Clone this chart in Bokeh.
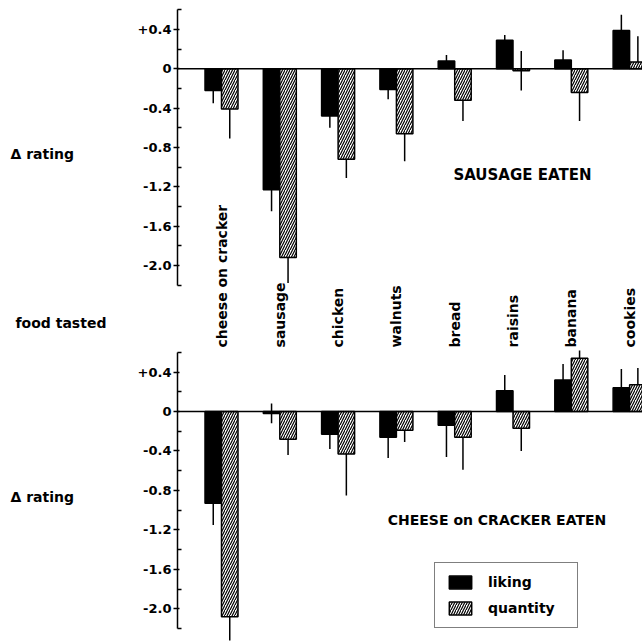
import numpy as np
from bokeh.plotting import figure
from bokeh.models import (Range1d, LinearAxis, FixedTicker, Span, Label,
                          ColumnDataSource, Legend, LegendItem, CustomJSTickFormatter)
from bokeh.layouts import column, row
from bokeh.embed import file_html
from bokeh.resources import INLINE
from bokeh.core.properties import value

# ---------------- data ----------------
foods = ["cheese on cracker", "sausage", "chicken", "walnuts",
         "bread", "raisins", "banana", "cookies"]

# SAUSAGE EATEN
saus_liking = [-0.22, -1.23, -0.48, -0.21, 0.08, 0.29, 0.09, 0.39]
saus_liking_se = [0.13, 0.22, 0.12, 0.10, 0.06, 0.055, 0.10, 0.16]
saus_quantity = [-0.41, -1.92, -0.92, -0.66, -0.32, -0.02, -0.24, 0.07]
saus_quantity_se = [0.30, 0.26, 0.19, 0.28, 0.21, 0.20, 0.29, 0.26]

# CHEESE on CRACKER EATEN
chee_liking = [-0.93, -0.02, -0.23, -0.26, -0.14, 0.21, 0.32, 0.24]
chee_liking_se = [0.22, 0.10, 0.15, 0.21, 0.32, 0.16, 0.16, 0.19]
chee_quantity = [-2.08, -0.28, -0.43, -0.19, -0.26, -0.17, 0.54, 0.27]
chee_quantity_se = [0.24, 0.16, 0.42, 0.12, 0.33, 0.23, 0.28, 0.17]

major_ticks = [0.4, 0.0, -0.4, -0.8, -1.2, -1.6, -2.0]
minor_ticks = [0.6, 0.2, -0.2, -0.6, -1.0, -1.4, -1.8, -2.2]
axis_bounds = (-2.2, 0.6)

side_texts = ["\u0394 rating", "food  tasted", "\u0394 rating"]

# ---------------- style ----------------
FONT = "DejaVu Sans"
SIDE_W = 130
W = 642 - SIDE_W
LEFT = 177 - SIDE_W
BAR_W = 0.283
x_range = Range1d(-0.7547, 7.221)
xs = np.arange(len(foods))


def whisker_ends(vals, ses):
    v = np.asarray(vals, dtype=float)
    s = np.asarray(ses, dtype=float)
    near = np.abs(v) < 0.05
    lo = np.where(near | (v < 0), v - s, v)
    hi = np.where(near | (v >= 0), v + s, v)
    return lo, hi


def panel(h, yr, liking, liking_se, qty, qty_se):
    p = figure(width=W, height=h, x_range=x_range, y_range=yr,
               output_backend="svg", toolbar_location=None,
               x_axis_type=None, y_axis_type=None,
               min_border_left=LEFT, min_border_right=0,
               min_border_top=0, min_border_bottom=0)
    p.outline_line_color = None
    p.background_fill_color = "white"
    p.border_fill_color = "white"

    ax = LinearAxis(ticker=FixedTicker(ticks=major_ticks, minor_ticks=minor_ticks),
                    formatter=CustomJSTickFormatter(code="""
                        if (Math.abs(tick) < 1e-6) return "0";
                        if (tick > 0) return "+" + tick.toFixed(1);
                        return "-" + Math.abs(tick).toFixed(1);
                    """))
    ax.bounds = axis_bounds
    ax.axis_line_width = 1.5
    ax.axis_line_color = "black"
    ax.major_tick_in = 2
    ax.major_tick_out = 4
    ax.minor_tick_in = 4
    ax.minor_tick_out = 0
    ax.major_tick_line_width = 1.5
    ax.minor_tick_line_width = 1.5
    ax.major_label_standoff = 2
    ax.major_label_text_font = FONT
    ax.major_label_text_font_style = "bold"
    ax.major_label_text_font_size = "13px"
    ax.major_label_text_color = "black"
    p.add_layout(ax, "left")

    p.add_layout(Span(location=0, dimension="width", line_color="black", line_width=1.5))

    src = ColumnDataSource(dict(
        xl=xs - BAR_W / 2, xq=xs + BAR_W / 2,
        liking=liking, qty=qty))
    rl = p.vbar(x="xl", top="liking", bottom=0, width=BAR_W, source=src,
                fill_color="black", line_color="black", line_width=1.5)
    rq = p.vbar(x="xq", top="qty", bottom=0, width=BAR_W, source=src,
                fill_color="white", line_color="black", line_width=1.5,
                hatch_pattern="/", hatch_color="black", hatch_scale=5, hatch_weight=1.2)

    llo, lhi = whisker_ends(liking, liking_se)
    qlo, qhi = whisker_ends(qty, qty_se)
    p.segment(x0=xs - BAR_W / 2, x1=xs - BAR_W / 2, y0=llo, y1=lhi,
              line_color="black", line_width=1.5)
    p.segment(x0=xs + BAR_W / 2, x1=xs + BAR_W / 2, y0=qlo, y1=qhi,
              line_color="black", line_width=1.5)
    return p, rl, rq


# top panel: frame spans page y 0..350
top, _, _ = panel(350, Range1d(-2.866, 0.695),
                  saus_liking, saus_liking_se, saus_quantity, saus_quantity_se)
top.text(x=xs, y=[-2.835] * len(foods), text=foods, angle=np.pi / 2,
         text_align="left", text_baseline="middle",
         text_font=value(FONT), text_font_style="bold",
         text_font_size="14px", text_color="black")
top.add_layout(Label(x=5.206, y=-1.085, text="SAUSAGE  EATEN", text_align="center",
                     text_baseline="middle", text_font=FONT, text_font_style="bold",
                     text_font_size="15px", text_color="black"))

# bottom panel: frame spans page y 350..642
bot, bl, bq = panel(292, Range1d(-2.340, 0.618),
                    chee_liking, chee_liking_se, chee_quantity, chee_quantity_se)
bot.add_layout(Label(x=4.725, y=-1.104, text="CHEESE on CRACKER EATEN", text_align="center",
                     text_baseline="middle", text_font=FONT, text_font_style="bold",
                     text_font_size="14px", text_color="black"))

legend = Legend(items=[LegendItem(label="liking", renderers=[bl]),
                       LegendItem(label="quantity", renderers=[bq])],
                location=(257, 14), margin=0, padding=11, spacing=10,
                glyph_width=28, glyph_height=16, label_height=16, label_width=78,
                label_standoff=14, label_text_font=FONT, label_text_font_style="bold",
                label_text_font_size="14px", label_text_color="black",
                border_line_color="black", border_line_width=1.5,
                background_fill_color="white", background_fill_alpha=1.0)
bot.add_layout(legend)

# side strip with the row titles (pixel coordinates of the page)
side = figure(width=SIDE_W, height=642, x_range=Range1d(0, SIDE_W), y_range=Range1d(642, 0),
              output_backend="svg", toolbar_location=None,
              x_axis_type=None, y_axis_type=None,
              min_border_left=0, min_border_right=0, min_border_top=0, min_border_bottom=0)
side.outline_line_color = None
side.grid.visible = False
side.text(x=[10, 15, 10], y=[153, 322, 496], text=side_texts,
          text_align="left", text_baseline="middle",
          text_font=value(FONT), text_font_style="bold",
          text_font_size="14px", text_color="black")

layout = row(side, column(top, bot, spacing=0), spacing=0)
open("out.html", "w").write(file_html(layout, INLINE))
